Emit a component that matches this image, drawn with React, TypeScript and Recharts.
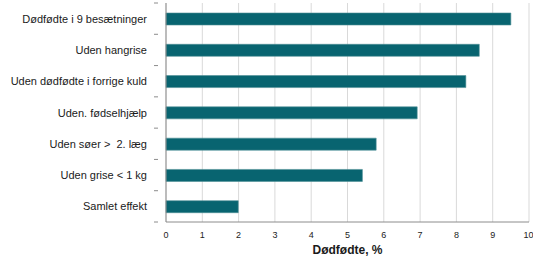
import React from 'react';
import { BarChart, Bar, XAxis, YAxis, CartesianGrid } from 'recharts';

const categories = [
  'Dødfødte i 9 besætninger',
  'Uden hangrise',
  'Uden dødfødte i forrige kuld',
  'Uden. fødselhjælp',
  'Uden søer >  2. læg',
  'Uden grise < 1 kg',
  'Samlet effekt',
];
const values = [9.5, 8.63, 8.26, 6.92, 5.79, 5.41, 1.99];
const xTicks = [0, 1, 2, 3, 4, 5, 6, 7, 8, 9, 10];

const data = categories.map((name, i) => ({ name, value: values[i] }));

const W = 533;
const H = 257;
const xAxisHeight = 34;
const margin = { top: 3, right: 4, bottom: 1, left: 6 };
const band = (H - margin.top - margin.bottom - xAxisHeight) / categories.length;
const font = '"Liberation Sans", Arial, sans-serif';

function CategoryTick(props: any) {
  const { x, y, payload, index } = props;
  return (
    <g>
      <text x={x - 11} y={y} dy={4} textAnchor="end" fontSize={11} fontFamily={font} fill="#1a1a1a">
        {payload.value.replace(/ /g, '\u00a0')}
      </text>
      <line x1={x - 4} x2={x} y1={y - band / 2} y2={y - band / 2} stroke="#8c8c8c" />
      {index === categories.length - 1 && <line x1={x - 4} x2={x} y1={y + band / 2} y2={y + band / 2} stroke="#8c8c8c" />}
    </g>
  );
}

export default function App() {
  return (
    <div style={{ position: 'absolute', left: 0, top: 0, width: W, height: H, background: '#fff' }}>
      <BarChart width={W} height={H} data={data} layout="vertical" margin={margin} barSize={12}>
        <CartesianGrid horizontal={false} stroke="#d9d9d9" />
        <XAxis
          type="number"
          domain={[0, 10]}
          ticks={xTicks}
          height={xAxisHeight}
          tickLine={false}
          axisLine={{ stroke: '#8c8c8c' }}
          tick={{ fontSize: 9, fontFamily: font, fill: '#222' }}
          tickMargin={4}
          label={{ value: 'Dødfødte, %', position: 'insideBottom', offset: 2, fontSize: 12, fontWeight: 'bold', fontFamily: font, fill: '#1a1a1a' }}
        />
        <YAxis
          type="category"
          dataKey="name"
          width={160}
          tickLine={false}
          axisLine={{ stroke: '#8c8c8c' }}
          tick={<CategoryTick />}
          interval={0}
        />
        <Bar dataKey="value" fill="#086470" stroke="#4d8e96" strokeWidth={0.6} isAnimationActive={false} />
      </BarChart>
    </div>
  );
}
